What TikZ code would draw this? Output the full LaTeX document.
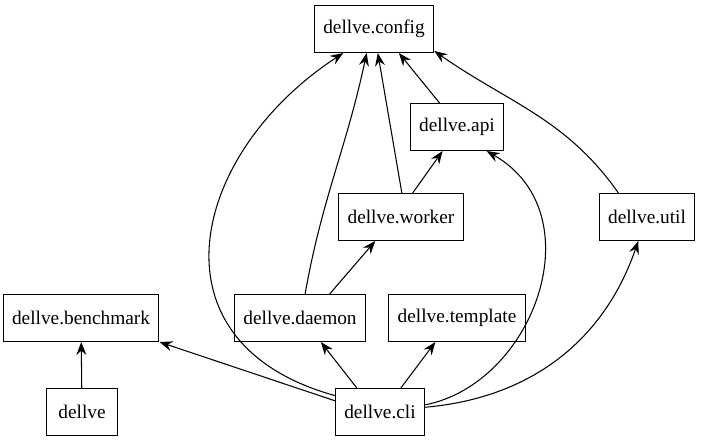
\documentclass[tikz,border=0pt]{standalone}
\usepackage{fontspec}
\setmainfont{Liberation Serif}
\usetikzlibrary{arrows.meta}

\begin{document}
\begin{tikzpicture}[
      x=1cm, y=1cm,
      module/.style={draw, line width=0.6pt, inner xsep=0.18cm, minimum width=1.42cm, minimum height=0.94cm, font=\fontsize{11}{13}\selectfont},
      dep/.style={-{Stealth[length=2.6mm, width=2mm, inset=0.9mm]}, line width=0.6pt}
    ]
      \useasboundingbox (0,0) rectangle (14.04,8.86);

      \node[module] (config) at (7.48,8.28) {dellve.config};
      \node[module] (api) at (9.14,6.32) {dellve.api};
      \node[module] (worker) at (8.02,4.52) {dellve.worker};
      \node[module] (util) at (12.94,4.52) {dellve.util};
      \node[module] (benchmark) at (1.62,2.50) {dellve.benchmark};
      \node[module] (daemon) at (6.00,2.50) {dellve.daemon};
      \node[module] (template) at (9.14,2.50) {dellve.template};
      \node[module] (dellve) at (1.64,0.62) {dellve};
      \node[module] (cli) at (7.60,0.62) {dellve.cli};

      \draw[dep] (dellve) -- (benchmark);
      \draw[dep] (cli.166) -- (benchmark.south east);
      \draw[dep] (cli.134) -- (daemon.-49);
      \draw[dep] (cli.49) -- (template.-132);
      \draw[dep] (cli.160) .. controls (2.9,2.0) and (3.8,5.8) .. (config.218);
      \draw[dep] (cli.9) .. controls (10.7,1.2) and (11.9,4.6) .. (api.-39);
      \draw[dep] (cli.6) to[out=5, in=-109] (util.-110);
      \draw[dep] (daemon.78) to[out=80, in=-102] (config.-107);
      \draw[dep] (daemon.39) -- (worker.-137);
      \draw[dep] (worker.88) -- (config.-81);
      \draw[dep] (worker.64) -- (api.-121);
      \draw[dep] (api.126) -- (config.-44);
      \draw[dep] (util.140) to[out=125, in=-35] (config.-20);
    \end{tikzpicture}
\end{document}
